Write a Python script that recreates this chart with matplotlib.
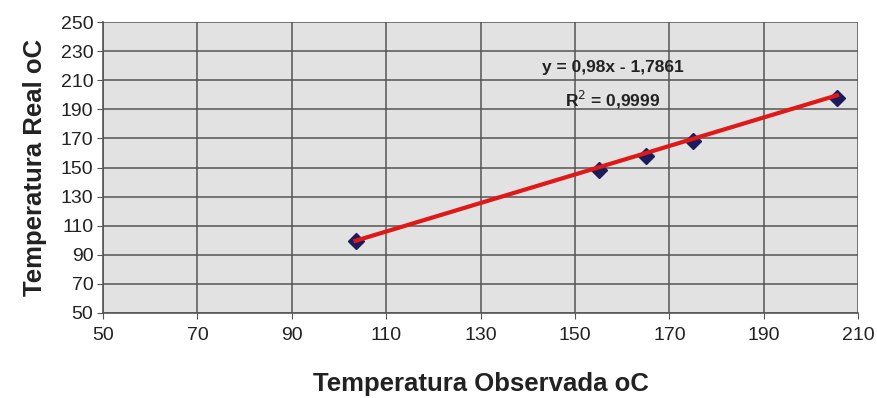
import numpy as np
import matplotlib.pyplot as plt

plt.rcParams['font.family'] = ['Liberation Sans', 'DejaVu Sans']

# observed vs real temperature (oC)
t_obs = [103.5, 155, 165, 175, 205.5]
t_real = [99.5, 148, 158, 168, 197.5]

slope = 0.98
intercept = -1.7861
eq_text = 'y = 0,98x - 1,7861'
r2_text = 'R$^{2}$ = 0,9999'

x_ticks = list(range(50, 211, 20))
y_ticks = list(range(50, 251, 20))

fig = plt.figure(figsize=(8.77, 3.98), dpi=100)
ax = fig.add_axes([0.1175, 0.2136, 0.861, 0.731])
ax.set_facecolor('#e2e2e2')

ax.plot(t_obs, t_real, 'D', color='#1c1c5a', markersize=8, zorder=3)
xl = np.array([min(t_obs), max(t_obs)])
ax.plot(xl, slope * xl + intercept, color='#e01818', lw=3, zorder=4)

ax.text(158, 218.5, eq_text, ha='center', va='center', fontsize=12.5, fontweight='bold', color='#222222')
ax.text(158, 196.5, r2_text, ha='center', va='center', fontsize=12.5, fontweight='bold', color='#222222')

ax.set_xlim(50, 210)
ax.set_ylim(50, 250)
ax.set_xticks(x_ticks)
ax.set_yticks(y_ticks)
ax.grid(True, color='#555555', lw=1.1)
ax.set_axisbelow(True)
for s in ['top', 'right']:
    ax.spines[s].set_visible(False)
for s in ['left', 'bottom']:
    ax.spines[s].set_color('#555555')
    ax.spines[s].set_linewidth(1.2)
ax.tick_params(colors='#555555', labelcolor='#222222', labelsize=14, length=4)
ax.tick_params(axis='x', pad=6)
ax.tick_params(axis='y', pad=3)

ax.set_xlabel('Temperatura Observada oC', fontsize=18.5, fontweight='bold', color='#222222', labelpad=20)
ax.set_ylabel('Temperatura Real oC', fontsize=18.5, fontweight='bold', color='#222222', labelpad=10)

plt.savefig('out.png', dpi=100)
